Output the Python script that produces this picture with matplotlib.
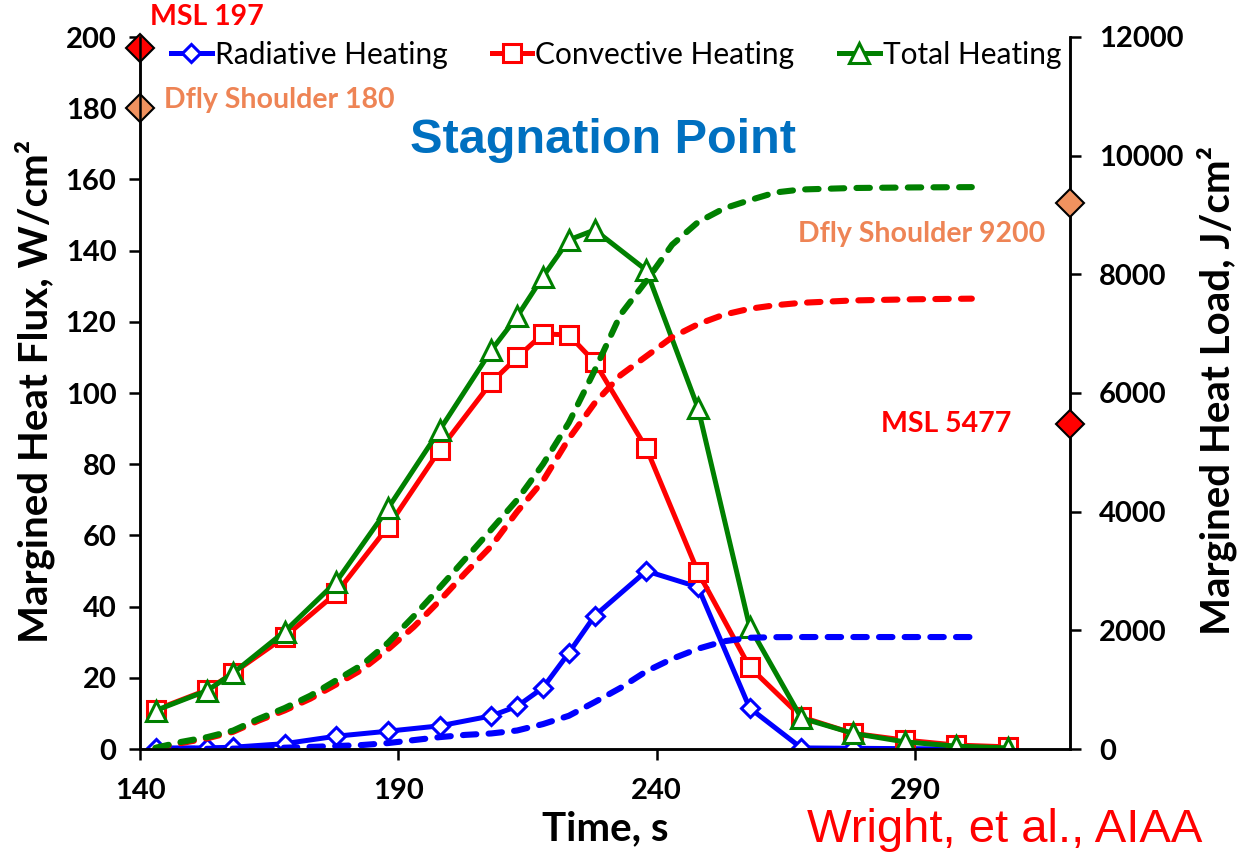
import matplotlib
matplotlib.use("Agg")
import matplotlib.pyplot as plt

# heat flux samples along the trajectory, W/cm2
time_s = [143, 153, 158, 168, 178, 188, 198, 208, 213, 218, 223, 228, 238, 248, 258, 268, 278, 288, 298, 308]
radiative = [0.3, 0.3, 0.5, 1.5, 3.6, 5.0, 6.5, 9.3, 12.0, 17.2, 27.0, 37.4, 50.0, 45.5, 11.5, 0.3, 0.2, 0.1, 0.0, 0.0]
convective = [11.0, 16.6, 21.3, 31.5, 43.8, 62.4, 84.0, 103.0, 110.0, 116.6, 116.3, 108.7, 84.5, 49.7, 23.0, 9.0, 4.4, 2.5, 1.1, 0.6]
total = [10.8, 16.4, 21.3, 33.0, 47.0, 67.6, 89.6, 112.0, 121.5, 132.7, 143.0, 145.8, 134.5, 95.8, 34.3, 8.7, 4.4, 2.0, 0.8, 0.3]

# accumulated heat load, J/cm2
load_time = [143, 148, 153, 158, 163, 168, 173, 178, 183, 188, 193, 198, 203, 208, 213,
             218, 223, 228, 233, 238, 243, 248, 253, 258, 263, 268, 278, 290, 301]
load_total = [20, 120, 200, 310, 510, 690, 900, 1160, 1420, 1790, 2240, 2720, 3210, 3700, 4200,
              4800, 5500, 6380, 7320, 7890, 8500, 8880, 9110, 9250, 9380, 9430, 9455, 9465, 9470]
load_conv = [15, 100, 180, 290, 480, 650, 850, 1090, 1340, 1680, 2060, 2500, 2970, 3420, 4000,
             4520, 5230, 5830, 6300, 6620, 6940, 7160, 7320, 7420, 7480, 7520, 7560, 7580, 7590]
load_rad = [0, 1, 3, 6, 12, 22, 35, 50, 67, 100, 150, 200, 238, 262, 312,
            420, 560, 790, 1030, 1310, 1520, 1690, 1815, 1875, 1885, 1887, 1887, 1887, 1887]

# reference vehicles
flux_refs = [("MSL", 197), ("Dfly Shoulder", 180)]
load_refs = [("Dfly Shoulder", 9200), ("MSL", 5477)]
ref_colors = {"MSL": "#FF0000", "Dfly Shoulder": "#F0925F"}
ref_text = {"MSL": "#FF0000", "Dfly Shoulder": "#EE8455"}

plt.rcParams['font.family'] = ['Lato', 'DejaVu Sans']

fig = plt.figure(figsize=(12.41, 8.52), dpi=100)
ax = fig.add_axes([140 / 1241, 1 - 749 / 852, 930 / 1241, 712 / 852])
ax2 = ax.twinx()

blue, red, green = "#0000FF", "#FF0000", "#008000"
mk = dict(markerfacecolor="white", markeredgewidth=2.2, linewidth=3.6)
l1, = ax.plot(time_s, radiative, color=blue, marker="D", markersize=9.5,
              markeredgecolor=blue, label="Radiative Heating", **mk)
l2, = ax.plot(time_s, convective, color=red, marker="s", markersize=12.5,
              markeredgecolor=red, label="Convective Heating", **mk)
l3, = ax.plot(time_s, total, color=green, marker="^", markersize=15,
              markeredgecolor=green, label="Total Heating", **mk)

dash = dict(linewidth=4.4, dashes=(2.2, 2.0), dash_capstyle="round")
ax2.plot(load_time, load_rad, color=blue, **dash)
ax2.plot(load_time, load_conv, color=red, **dash)
ax2.plot(load_time, load_total, color=green, **dash)

ax.set_xlim(140, 320)
ax.set_ylim(0, 200)
ax2.set_ylim(0, 12000)
ax.set_xticks([140, 190, 240, 290])
ax.set_yticks(range(0, 201, 20))
ax2.set_yticks(range(0, 12001, 2000))

for a in (ax, ax2):
    a.spines['top'].set_visible(False)
    for s in a.spines.values():
        s.set_linewidth(1.8)
    a.patch.set_visible(False)
ax.tick_params(axis='both', direction='out', length=8, width=1.8, labelsize=21, pad=9)
ax.tick_params(axis='x', pad=13)
ax2.tick_params(axis='y', direction='out', length=8, width=1.8, labelsize=21, pad=13)
for lab in ax.get_xticklabels() + ax.get_yticklabels() + ax2.get_yticklabels():
    lab.set_fontweight('bold')

# reference markers sitting on the axes
for name, val in flux_refs:
    ax.plot([140], [val], marker="D", markersize=14.5, color=ref_colors[name],
            markeredgecolor="black", markeredgewidth=1.5, clip_on=False, zorder=5)
ax.annotate("MSL 197", (140, 197), xytext=(7, 22), textcoords="offset points",
            color=ref_text["MSL"], fontsize=20.5, fontweight="bold", va="center",
            annotation_clip=False)
ax.annotate("Dfly Shoulder 180", (140, 180), xytext=(17, 6), textcoords="offset points",
            color=ref_text["Dfly Shoulder"], fontsize=20.5, fontweight="bold", va="center",
            annotation_clip=False)
for name, val in load_refs:
    ax2.plot([320], [val], marker="D", markersize=14.5, color=ref_colors[name],
             markeredgecolor="black", markeredgewidth=1.5, clip_on=False, zorder=5)
ax2.annotate("Dfly Shoulder 9200", (320, 9200), xytext=(-18, -22), textcoords="offset points",
             color=ref_text["Dfly Shoulder"], fontsize=20.5, fontweight="bold",
             ha="right", va="center", annotation_clip=False)
ax2.annotate("MSL 5477", (320, 5477), xytext=(-42, 0), textcoords="offset points",
             color=ref_text["MSL"], fontsize=20.5, fontweight="bold",
             ha="right", va="center", annotation_clip=False)

leg = ax2.legend(handles=[l1, l2, l3], loc="center", bbox_to_anchor=(0.512, 0.975),
                 ncol=3, frameon=False, fontsize=21.5, handlelength=1.35,
                 handletextpad=0.1, columnspacing=1.5, borderaxespad=0)

fig.text(603 / 1241, 1 - 153 / 852, "Stagnation Point", color="#0070C0", fontsize=35,
         fontweight="bold", family="Liberation Sans", ha="center", va="baseline")
fig.text(35 / 1241, 1 - 391 / 852, "Margined Heat Flux, W/cm²", rotation=90,
         fontsize=29, fontweight="bold", ha="center", va="center")
fig.text(1217 / 1241, 1 - 390 / 852, "Margined Heat Load, J/cm²", rotation=90,
         fontsize=29, fontweight="bold", ha="center", va="center")
fig.text(605 / 1241, 1 - 829 / 852, "Time, s", fontsize=29, fontweight="bold",
         ha="center", va="center")
fig.text(807 / 1241, 1 - 842 / 852, "Wright, et al., AIAA", color="#FF0000",
         fontsize=34, family="Liberation Sans", ha="left", va="baseline")

fig.savefig("out.png", dpi=100)
